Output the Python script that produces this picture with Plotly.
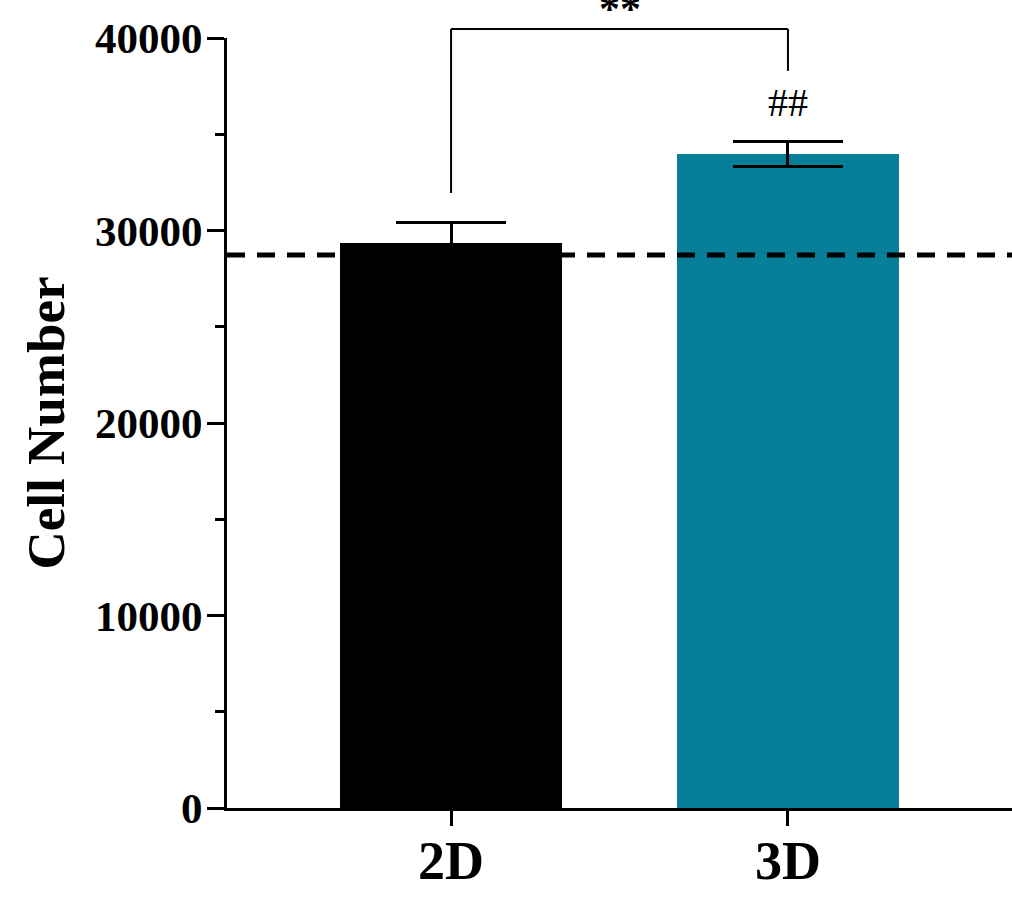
import plotly.graph_objects as go

# ---- data ----
categories = ["2D", "3D"]
cell_number = [29350, 33950]
cell_error = [1040, 650]
baseline_value = 28730
bar_colors = ["#000000", "#077F98"]
y_ticks = [0, 10000, 20000, 30000, 40000]
y_tick_labels = ["0", "10000", "20000", "30000", "40000"]
# significance bracket (in data units)
bracket_top = 40470
bracket_left_start = 31950
bracket_right_start = 38290
bracket_label = "**"
hash_label = "##"
hash_value = 36650

# ---- layout constants ----
Y_MAX = 40000
X_MIN, X_MAX = -0.665, 1.665
FONT = "Liberation Serif"

fig = go.Figure()
fig.add_trace(go.Bar(
    x=categories, y=cell_number,
    marker=dict(color=bar_colors, line=dict(width=0)),
    width=0.66,
    error_y=dict(type="data", array=cell_error, color="#000000", thickness=3, width=55),
    showlegend=False,
))

def xp(i):
    return (i - X_MIN) / (X_MAX - X_MIN)

def yp(v):
    return v / Y_MAX

line_style = dict(color="#000000", width=2)
# bracket
fig.add_shape(type="line", xref="paper", yref="paper", x0=xp(0), x1=xp(0),
              y0=yp(bracket_left_start), y1=yp(bracket_top), line=line_style)
fig.add_shape(type="line", xref="paper", yref="paper", x0=xp(0), x1=xp(1),
              y0=yp(bracket_top), y1=yp(bracket_top), line=line_style)
fig.add_shape(type="line", xref="paper", yref="paper", x0=xp(1), x1=xp(1),
              y0=yp(bracket_right_start), y1=yp(bracket_top), line=line_style)

# dashed baseline
fig.add_shape(type="line", xref="paper", yref="y", x0=0, x1=1,
              y0=baseline_value, y1=baseline_value, layer="above",
              line=dict(color="#000000", width=5, dash="18px,12px"))

fig.add_annotation(xref="paper", yref="paper", x=(xp(0) + xp(1)) / 2, y=yp(bracket_top),
                   text=bracket_label, showarrow=False, yanchor="bottom", yshift=-5,
                   font=dict(family=FONT, size=42, color="#000000", weight="bold"))
fig.add_annotation(xref="x", yref="y", x=categories[1], y=hash_value,
                   text=hash_label, showarrow=False, yanchor="middle",
                   font=dict(family=FONT, size=40, color="#000000"))

fig.update_layout(
    width=1012, height=900,
    margin=dict(l=227, r=0, t=38, b=92),
    paper_bgcolor="white", plot_bgcolor="white",
    bargap=0,
    xaxis=dict(
        range=[X_MIN, X_MAX],
        showline=True, linecolor="#000000", linewidth=3,
        ticks="outside", ticklen=15, tickwidth=3, tickcolor="#000000",
        ticklabelstandoff=-12,
        tickfont=dict(family=FONT, size=54, color="#000000", weight="bold"),
        showgrid=False, zeroline=False,
    ),
    yaxis=dict(
        range=[0, Y_MAX],
        tickvals=y_ticks, ticktext=y_tick_labels,
        showline=True, linecolor="#000000", linewidth=3,
        ticks="outside", ticklen=17, tickwidth=3, tickcolor="#000000",
        ticklabelstandoff=-4,
        minor=dict(dtick=5000, ticks="outside", ticklen=9, tickwidth=3, tickcolor="#000000", showgrid=False),
        tickfont=dict(family=FONT, size=43, color="#000000", weight="bold"),
        title=dict(text="Cell Number", standoff=14,
                   font=dict(family=FONT, size=53, color="#000000", weight="bold")),
        showgrid=False, zeroline=False,
    ),
)

fig.write_html("out.html", config={"displayModeBar": False},
               post_script="document.body.style.margin='0px';")
